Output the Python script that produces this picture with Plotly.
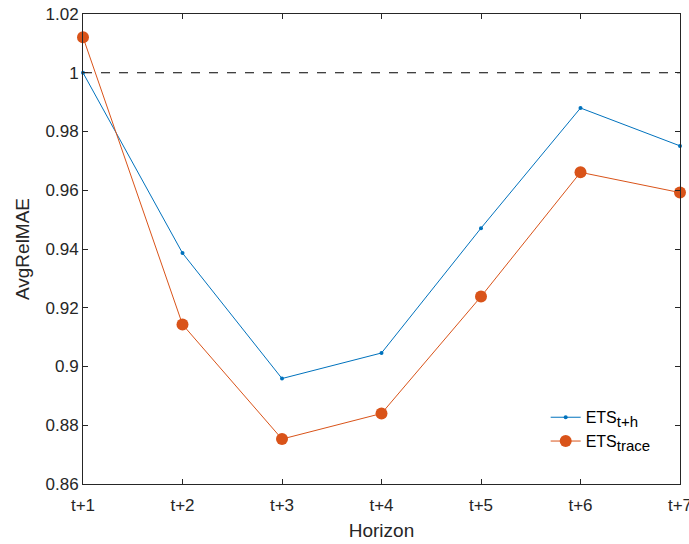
import plotly.graph_objects as go

horizons = ["t+1", "t+2", "t+3", "t+4", "t+5", "t+6", "t+7"]
ets_th = [1.0, 0.9386, 0.8959, 0.9046, 0.9471, 0.9880, 0.9751]
ets_trace = [1.0121, 0.9143, 0.8753, 0.8840, 0.9238, 0.9661, 0.9592]
yticks = [0.86, 0.88, 0.9, 0.92, 0.94, 0.96, 0.98, 1.0, 1.02]
ytick_text = ["0.86", "0.88", "0.9", "0.92", "0.94", "0.96", "0.98", "1", "1.02"]

xpos = list(range(1, len(horizons) + 1))
blue = "#0072BD"
orange = "#D95319"
axc = "#262626"

fig = go.Figure()
fig.add_trace(go.Scatter(
    x=[xpos[0], xpos[-1]], y=[1, 1], mode="lines",
    line=dict(color="black", width=1, dash="dash"), showlegend=False, hoverinfo="skip"))
fig.add_trace(go.Scatter(
    x=xpos, y=ets_th, mode="lines+markers",
    name="ETS<sub><span style=\"font-size:15px\">t+h</span></sub>",
    line=dict(color=blue, width=1), marker=dict(color=blue, size=4), cliponaxis=False))
fig.add_trace(go.Scatter(
    x=xpos, y=ets_trace, mode="lines+markers",
    name="ETS<sub><span style=\"font-size:15px\">trace</span></sub>",
    line=dict(color=orange, width=1), marker=dict(color=orange, size=12), cliponaxis=False))

fig.update_layout(
    width=689, height=544,
    margin=dict(l=83, r=9, t=14, b=60),
    plot_bgcolor="white", paper_bgcolor="white",
    font=dict(family="Liberation Sans, Arial, sans-serif", size=17, color=axc),
    legend=dict(x=0.775, y=0.178, xanchor="left", yanchor="top",
                bgcolor="rgba(0,0,0,0)", borderwidth=0, font=dict(size=16, color="black"),
                tracegroupgap=0),
    xaxis=dict(
        range=[1, 7], tickvals=xpos, ticktext=horizons, automargin=False,
        showgrid=False, zeroline=False, showline=True, linecolor=axc, linewidth=1,
        mirror="ticks", ticks="inside", ticklen=5, tickcolor=axc,
        ticklabeloverflow="allow", ticklabelstandoff=6,
        title=dict(text="Horizon", font=dict(size=19), standoff=9),
    ),
    yaxis=dict(
        range=[0.86, 1.02], tickvals=yticks, ticktext=ytick_text, automargin=False,
        showgrid=False, zeroline=False, showline=True, linecolor=axc, linewidth=1,
        mirror="ticks", ticks="inside", ticklen=5, tickcolor=axc,
        title=dict(text="AvgRelMAE", font=dict(size=19), standoff=10),
    ),
)

fig.write_html("out.html")
